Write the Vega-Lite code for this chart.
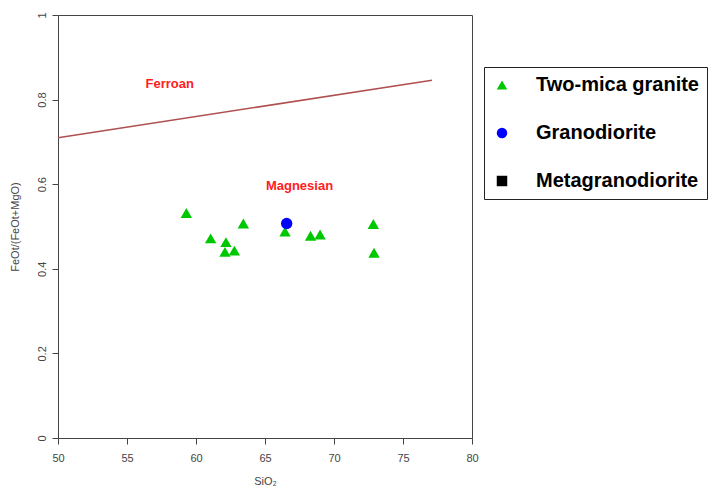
{
  "$schema": "https://vega.github.io/schema/vega-lite/v6.json",
  "width": 414,
  "height": 423,
  "autosize": {"type": "none"},
  "padding": {"left": 58, "top": 15, "right": 243, "bottom": 49},
  "background": "white",
  "config": {
    "view": {"stroke": "#444", "strokeWidth": 1},
    "font": "Liberation Sans",
    "axis": {
      "grid": false,
      "domain": false,
      "labelFlush": false,
      "tickColor": "#444",
      "tickSize": 6,
      "labelColor": "#444",
      "labelFontSize": 11,
      "titleColor": "#444",
      "titleFontSize": 11,
      "titleFontWeight": "normal"
    }
  },
  "datasets": {
    "pts": [
      {"SiO2": 59.3, "ratio": 0.532, "group": "Two-mica granite"},
      {"SiO2": 61.06, "ratio": 0.472, "group": "Two-mica granite"},
      {"SiO2": 62.17, "ratio": 0.463, "group": "Two-mica granite"},
      {"SiO2": 62.1, "ratio": 0.440, "group": "Two-mica granite"},
      {"SiO2": 62.78, "ratio": 0.443, "group": "Two-mica granite"},
      {"SiO2": 63.43, "ratio": 0.507, "group": "Two-mica granite"},
      {"SiO2": 66.45, "ratio": 0.488, "group": "Two-mica granite"},
      {"SiO2": 68.3, "ratio": 0.478, "group": "Two-mica granite"},
      {"SiO2": 68.99, "ratio": 0.481, "group": "Two-mica granite"},
      {"SiO2": 72.85, "ratio": 0.506, "group": "Two-mica granite"},
      {"SiO2": 72.9, "ratio": 0.438, "group": "Two-mica granite"},
      {"SiO2": 66.57, "ratio": 0.507, "group": "Granodiorite"}
    ],
    "boundary": [
      {"SiO2": 50, "ratio": 0.71},
      {"SiO2": 77.1, "ratio": 0.8455}
    ],
    "labels": [
      {"SiO2": 58.1, "ratio": 0.837, "text": "Ferroan"},
      {"SiO2": 67.5, "ratio": 0.596, "text": "Magnesian"}
    ]
  },
  "layer": [
    {
      "data": {"name": "boundary"},
      "mark": {"type": "line", "color": "#b05050", "strokeWidth": 1.5},
      "encoding": {
        "x": {"field": "SiO2", "type": "quantitative", "scale": {"domain": [50, 80], "nice": false, "zero": false},
          "axis": {"values": [50, 55, 60, 65, 70, 75, 80], "title": "SiO₂", "labelPadding": 8, "titlePadding": 12}},
        "y": {"field": "ratio", "type": "quantitative", "scale": {"domain": [0, 1], "nice": false},
          "axis": {"values": [0, 0.2, 0.4, 0.6, 0.8, 1], "format": ".1~f", "labelAngle": -90, "labelAlign": "center", "labelBaseline": "bottom", "labelPadding": 5, "title": "FeOt/(FeOt+MgO)", "titlePadding": 16}}
      }
    },
    {
      "data": {"name": "labels"},
      "mark": {"type": "text", "color": "#ff2020", "fontWeight": "bold", "fontSize": 13},
      "encoding": {
        "x": {"field": "SiO2", "type": "quantitative"},
        "y": {"field": "ratio", "type": "quantitative"},
        "text": {"field": "text"}
      }
    },
    {
      "data": {"name": "pts"},
      "mark": {"type": "point", "filled": true, "opacity": 1, "size": 130},
      "encoding": {
        "x": {"field": "SiO2", "type": "quantitative"},
        "y": {"field": "ratio", "type": "quantitative"},
        "color": {"field": "group", "type": "nominal",
          "scale": {"domain": ["Two-mica granite", "Granodiorite", "Metagranodiorite"], "range": ["#00c800", "#0000ff", "#000000"]},
          "legend": {
            "orient": "none", "legendX": 426, "legendY": 52, "title": null,
            "strokeColor": "#222", "padding": 8, "labelLimit": 400,
            "labelFontSize": 20, "labelFontWeight": "bold", "labelColor": "#000", "labelFont": "Liberation Sans",
            "symbolSize": 110, "labelOffset": 24, "rowPadding": 28, "symbolOpacity": 1
          }},
        "shape": {"field": "group", "type": "nominal",
          "scale": {"domain": ["Two-mica granite", "Granodiorite", "Metagranodiorite"], "range": ["triangle-up", "circle", "square"]}}
      }
    }
  ]
}
